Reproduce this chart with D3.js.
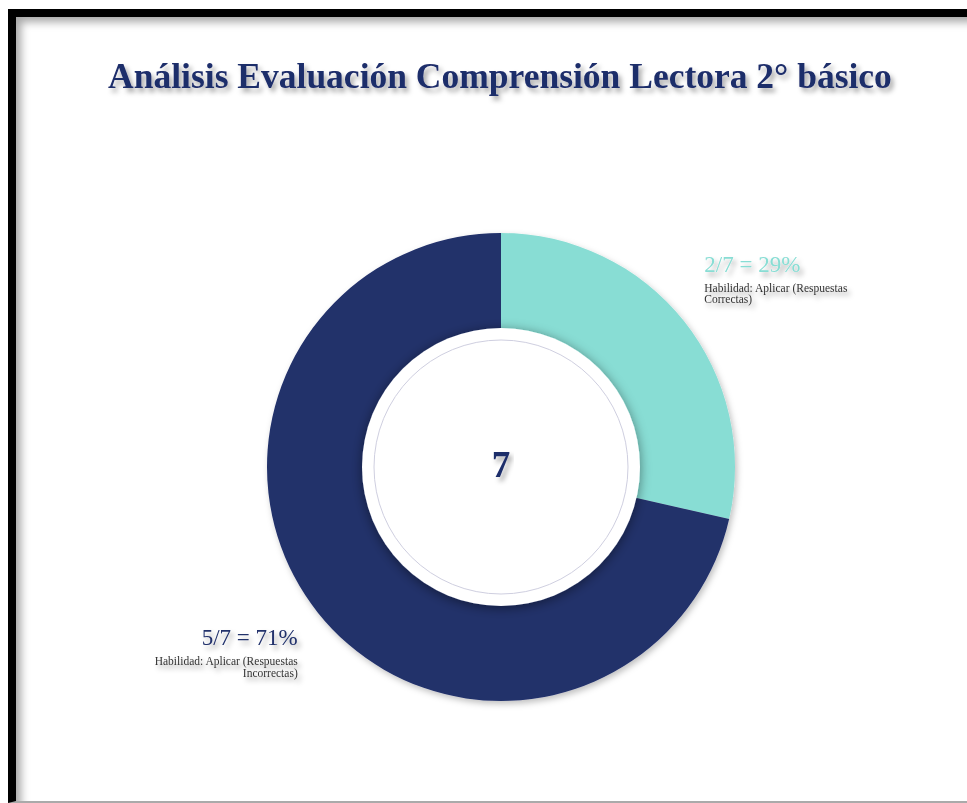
<!DOCTYPE html>
<html>
<head>
<meta charset="utf-8">
<script src="https://cdn.jsdelivr.net/npm/d3@7"></script>
<style>
  body { margin: 0; background: #fff; overflow: hidden; }
  #frame {
    position: absolute; left: 8px; top: 9px; width: 959px; height: 784px;
    border-top: 8px solid #000; border-left: 8px solid #000;
    border-bottom: 2px solid #aaa;
    box-shadow: inset 9px 9px 9px -4px rgba(0,0,0,0.35);
  }
  svg { position: absolute; left: 0; top: 0; }
</style>
</head>
<body>
<div id="frame"></div>
<div id="chart"></div>
<script>
let title = "Análisis Evaluación Comprensión Lectora 2° básico";
let categories = ["Habilidad: Aplicar (Respuestas Correctas)", "Habilidad: Aplicar (Respuestas Incorrectas)"];
let values = [2, 5];
let colors = ["#88ddd4", "#21306b"];
let labelLines = [["Habilidad: Aplicar (Respuestas", "Correctas)"], ["Habilidad: Aplicar (Respuestas", "Incorrectas)"]];

function printDonut() {
    let width = 967, height = 803,
        cx = 501, cy = 467,
        outerR = 234, holeR = 139, ringR = 127;

    let total = d3.sum(values);

    let svg = d3.select("#chart").append("svg")
        .attr("width", width)
        .attr("height", height);

    let defs = svg.append("defs");
    let textShadow = defs.append("filter").attr("id", "textShadow")
        .attr("x", "-20%").attr("y", "-40%").attr("width", "140%").attr("height", "200%");
    textShadow.append("feDropShadow")
        .attr("dx", 3).attr("dy", 4).attr("stdDeviation", 2.5)
        .attr("flood-color", "#000").attr("flood-opacity", 0.35);

    let holeShadow = defs.append("filter").attr("id", "holeShadow")
        .attr("x", "-20%").attr("y", "-20%").attr("width", "140%").attr("height", "140%");
    holeShadow.append("feDropShadow")
        .attr("dx", 0).attr("dy", 2).attr("stdDeviation", 6)
        .attr("flood-color", "#000").attr("flood-opacity", 0.45);

    let donutShadow = defs.append("filter").attr("id", "donutShadow")
        .attr("x", "-20%").attr("y", "-20%").attr("width", "140%").attr("height", "140%");
    donutShadow.append("feDropShadow")
        .attr("dx", 2).attr("dy", 3).attr("stdDeviation", 3)
        .attr("flood-color", "#000").attr("flood-opacity", 0.25);

    // title
    svg.append("text")
        .attr("x", 500).attr("y", 88)
        .attr("text-anchor", "middle")
        .attr("font-family", "'Liberation Serif', 'Times New Roman', serif")
        .attr("font-weight", "bold")
        .attr("font-size", "35.5px")
        .attr("fill", "#1f2d6b")
        .attr("filter", "url(#textShadow)")
        .text(title);

    let pie = d3.pie().sort(null).value((d) => d);
    let arcs = pie(values);

    let arc = d3.arc().innerRadius(holeR - 10).outerRadius(outerR);

    let g = svg.append("g")
        .attr("transform", "translate(" + cx + "," + cy + ")");

    g.append("g")
        .attr("filter", "url(#donutShadow)")
        .selectAll("path")
        .data(arcs)
        .enter().append("path")
        .attr("d", arc)
        .attr("fill", (d, i) => colors[i]);

    // center hole
    g.append("circle")
        .attr("r", holeR)
        .attr("fill", "#fff")
        .attr("filter", "url(#holeShadow)");

    g.append("circle")
        .attr("r", ringR)
        .attr("fill", "none")
        .attr("stroke", "#cfcfe0")
        .attr("stroke-width", 1);

    g.append("text")
        .attr("y", 10)
        .attr("text-anchor", "middle")
        .attr("font-family", "'Liberation Serif', 'Times New Roman', serif")
        .attr("font-weight", "bold")
        .attr("font-size", "37px")
        .attr("fill", "#1f2d6b")
        .attr("filter", "url(#textShadow)")
        .text(total);

    // labels
    let labelArc = d3.arc().innerRadius(260).outerRadius(260);
    let yOffsets = [-33, 16];

    let labels = g.selectAll(".label")
        .data(arcs)
        .enter().append("g")
        .attr("class", "label")
        .attr("filter", "url(#textShadow)")
        .attr("transform", (d, i) => {
            let c = labelArc.centroid(d);
            return "translate(" + c[0] + "," + (c[1] + yOffsets[i]) + ")";
        });

    labels.append("text")
        .attr("text-anchor", (d) => labelArc.centroid(d)[0] > 0 ? "start" : "end")
        .attr("font-family", "'Liberation Serif', 'Times New Roman', serif")
        .attr("font-size", "23px")
        .attr("fill", (d, i) => colors[i])
        .text((d, i) => values[i] + "/" + total + " = " + Math.round(values[i] / total * 100) + "%");

    labels.each(function (d, i) {
        let anchor = labelArc.centroid(d)[0] > 0 ? "start" : "end";
        d3.select(this).selectAll(".sub")
            .data(labelLines[i])
            .enter().append("text")
            .attr("class", "sub")
            .attr("text-anchor", anchor)
            .attr("y", (t, j) => 20 + j * 11.5)
            .attr("font-family", "'Liberation Serif', 'Times New Roman', serif")
            .attr("font-size", "11.5px")
            .attr("fill", "#333")
            .text((t) => t);
    });
}

printDonut();
</script>
</body>
</html>
